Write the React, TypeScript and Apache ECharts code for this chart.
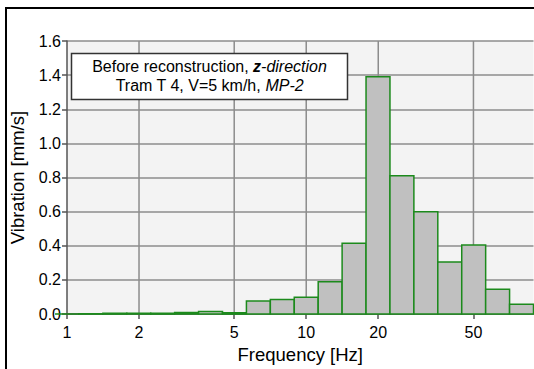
import React, { useEffect, useRef } from "react";
import * as echarts from "echarts";

// 1/3-octave band centre frequencies [Hz] and measured vibration [mm/s]
const bandCenters = [1, 1.25, 1.6, 2, 2.5, 3.15, 4, 5, 6.3, 8, 10, 12.5, 16, 20, 25, 31.5, 40, 50, 63, 80];
const vibration = [0, 0.002, 0.005, 0.005, 0.005, 0.009, 0.015, 0.008, 0.077, 0.086, 0.098, 0.19, 0.415, 1.39, 0.81, 0.6, 0.305, 0.405, 0.145, 0.058];

// labelled frequencies on the log axis
const freqTicks = [1, 2, 5, 10, 20, 50];
const yTicks = [0, 0.2, 0.4, 0.6, 0.8, 1.0, 1.2, 1.4, 1.6];

const FONT = "Liberation Sans, Arial, sans-serif";

// band index in tenths of a decade, so edges sit half a step either side
const bandLog = (c: number) => Math.round(Math.log10(c) * 10) / 10;

export default function App() {
  const ref = useRef<HTMLDivElement>(null);

  useEffect(() => {
    if (!ref.current) return;
    const chart = echarts.init(ref.current, null, { renderer: "svg" });

    const bars = bandCenters.map((c, i) => [bandLog(c) - 0.05, bandLog(c) + 0.05, vibration[i]]);
    const gridX = freqTicks.slice(1).map((f) => [Math.log10(f)]);
    const logTicks = freqTicks.map((f) => Math.log10(f));

    chart.setOption({
      animation: false,
      grid: {
        left: 66.5,
        top: 41,
        width: 467,
        height: 278.5,
        show: true,
        backgroundColor: "#f3f3f3",
        borderWidth: 0,
      },
      xAxis: {
        type: "value",
        min: 0,
        max: 1.95,
        name: "Frequency [Hz]",
        nameLocation: "middle",
        nameGap: 27,
        nameTextStyle: { fontFamily: FONT, fontSize: 18.5, color: "#000" },
        axisLine: { show: true, onZero: false, lineStyle: { color: "#555", width: 1.5 } },
        axisTick: { show: true, customValues: logTicks, length: 5, lineStyle: { color: "#555", width: 1.5 } },
        axisLabel: {
          customValues: logTicks,
          fontFamily: FONT,
          fontSize: 16,
          color: "#000",
          margin: 10,
          formatter: (v: number) => String(Math.round(Math.pow(10, v))),
        },
        splitLine: { show: false },
      },
      yAxis: {
        type: "value",
        min: 0,
        max: 1.6,
        interval: 0.2,
        name: "Vibration [mm/s]",
        nameLocation: "middle",
        nameGap: 40,
        nameTextStyle: { fontFamily: FONT, fontSize: 18.5, color: "#000" },
        axisLine: { show: true, lineStyle: { color: "#555", width: 1.5 } },
        axisTick: { show: true, length: 5, lineStyle: { color: "#555", width: 1.5 } },
        axisLabel: {
          fontFamily: FONT,
          fontSize: 16,
          color: "#000",
          margin: 6,
          formatter: (v: number) => {
            const t = yTicks.find((y) => Math.abs(y - v) < 1e-6);
            return (t ?? v).toFixed(1);
          },
        },
        splitLine: { show: true, lineStyle: { color: "#8c8c8c", width: 1.5 } },
      },
      series: [
        {
          type: "custom",
          name: "gridX",
          z: 1,
          silent: true,
          data: gridX,
          renderItem: (params: any, api: any) => {
            const x = api.coord([api.value(0), 0])[0];
            const top = api.coord([api.value(0), 1.6])[1];
            const bottom = api.coord([api.value(0), 0])[1];
            return {
              type: "line",
              shape: { x1: x, y1: top, x2: x, y2: bottom },
              style: { stroke: "#8c8c8c", lineWidth: 1.5 },
            };
          },
        },
        {
          type: "custom",
          name: "Vibration",
          z: 2,
          data: bars,
          encode: { x: [0, 1], y: 2 },
          renderItem: (params: any, api: any) => {
            const p0 = api.coord([api.value(0), 0]);
            const p1 = api.coord([api.value(1), api.value(2)]);
            return {
              type: "rect",
              shape: { x: p0[0], y: p1[1], width: p1[0] - p0[0], height: p0[1] - p1[1] },
              style: { fill: "#c0c0c0", stroke: "#1c8a1c", lineWidth: 1.5 },
            };
          },
        },
      ],
      graphic: [
        {
          type: "rect",
          z: 100,
          shape: { x: 6, y: 8, width: 600, height: 420 },
          style: { fill: "none", stroke: "#000", lineWidth: 2 },
        },
        {
          type: "rect",
          z: 100,
          shape: { x: 71.5, y: 53.5, width: 276, height: 46 },
          style: { fill: "#fff", stroke: "#333", lineWidth: 1.5 },
        },
        {
          type: "text",
          z: 101,
          x: 209.5,
          y: 66,
          style: {
            text: "{n|Before reconstruction, }{b|z}{i|-direction}",
            align: "center",
            verticalAlign: "middle",
            rich: {
              n: { fontFamily: FONT, fontSize: 16, fill: "#000" },
              b: { fontFamily: FONT, fontSize: 16, fontWeight: "bold", fontStyle: "italic", fill: "#000" },
              i: { fontFamily: FONT, fontSize: 16, fontStyle: "italic", fill: "#000" },
            },
          },
        },
        {
          type: "text",
          z: 101,
          x: 209.5,
          y: 85,
          style: {
            text: "{n|Tram T 4, V=5 km/h, }{i|MP-2}",
            align: "center",
            verticalAlign: "middle",
            rich: {
              n: { fontFamily: FONT, fontSize: 16, fill: "#000" },
              i: { fontFamily: FONT, fontSize: 16, fontStyle: "italic", fill: "#000" },
            },
          },
        },
      ],
    });

    return () => chart.dispose();
  }, []);

  return (
    <div
      ref={ref}
      style={{ position: "absolute", left: 0, top: 0, width: 534, height: 369, background: "#fff" }}
    />
  );
}
